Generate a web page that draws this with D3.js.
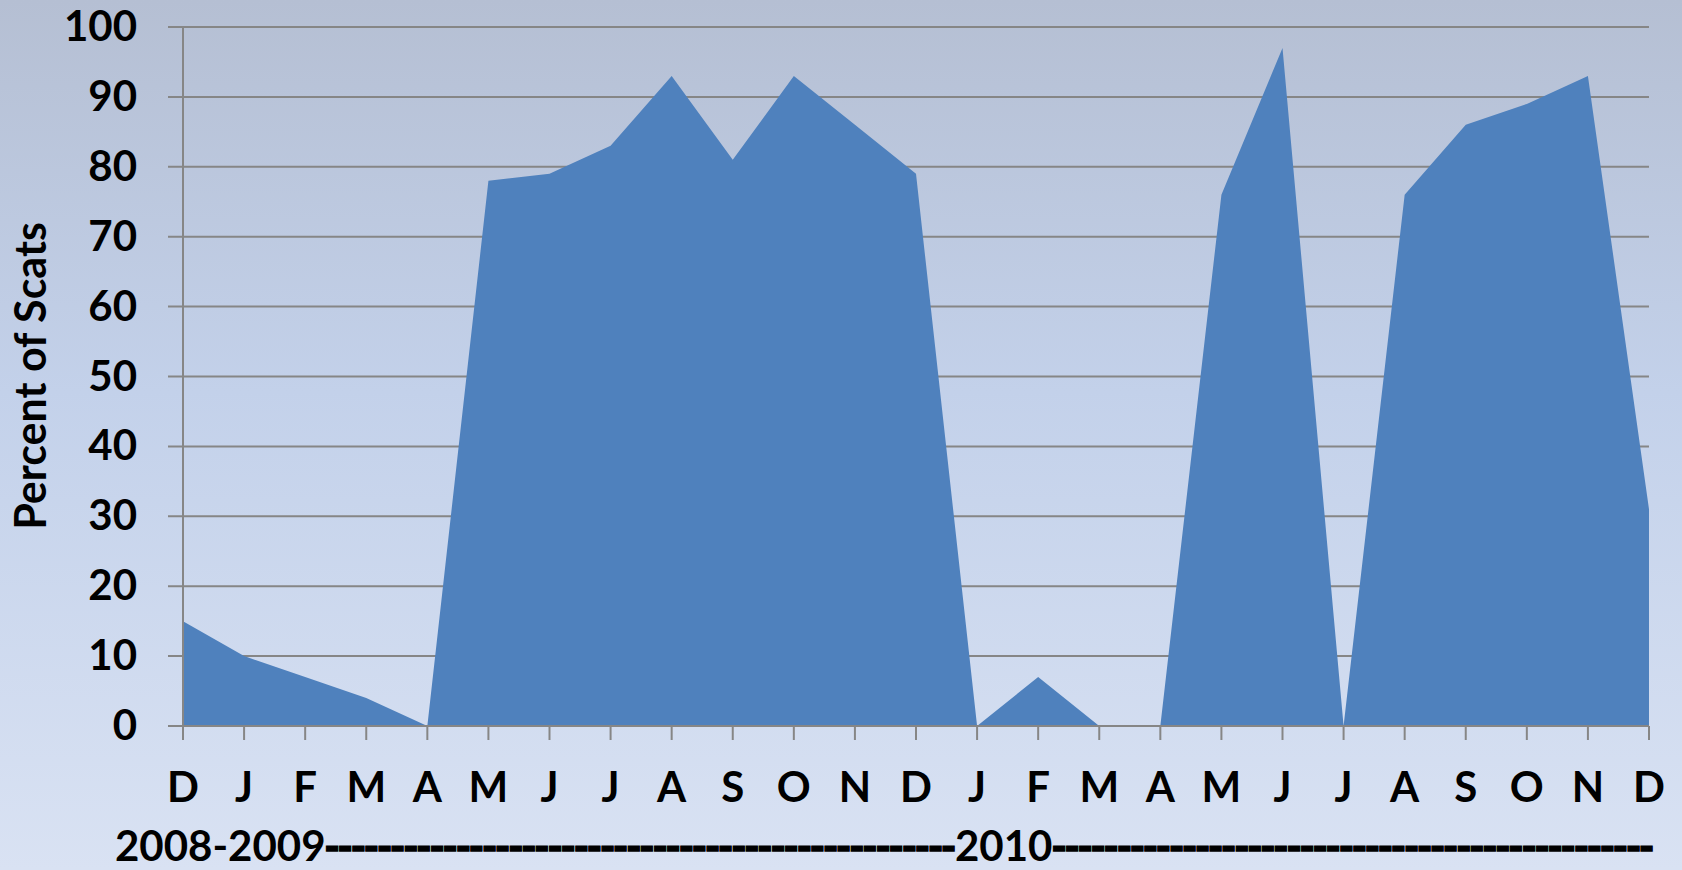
<!DOCTYPE html>
<html>
<head>
<meta charset="utf-8">
<script src="https://cdn.jsdelivr.net/npm/d3@7"></script>
<style>
  html, body { margin: 0; padding: 0; }
  body { width: 1682px; height: 870px; overflow: hidden; }
  text { font-family: Lato, "Open Sans", sans-serif; font-weight: 700; fill: #000; }
</style>
</head>
<body>
<svg id="chart" width="1682" height="870"></svg>
<script>
// Monthly share of scats, Dec 2008 through Dec 2010
const months = ["D","J","F","M","A","M","J","J","A","S","O","N","D",
                "J","F","M","A","M","J","J","A","S","O","N","D"];
const percent = [15, 10, 7, 4, 0, 78, 79, 83, 93, 81, 93, 86, 79,
                 0, 7, 0, 0, 76, 97, 0, 76, 86, 89, 93, 31];
const yTicks = [0, 10, 20, 30, 40, 50, 60, 70, 80, 90, 100];
const yearLabels = ["2008-2009", "2010"];

const W = 1682, H = 870;
const margin = { left: 183, right: 33, top: 27, bottom: 144 };
const svg = d3.select("#chart");

// Background wash
const defs = svg.append("defs");
const grad = defs.append("linearGradient").attr("id", "bg")
  .attr("x1", 0).attr("y1", 0).attr("x2", 0).attr("y2", 1);
grad.append("stop").attr("offset", "0%").attr("stop-color", "#b5bfd3");
grad.append("stop").attr("offset", "45%").attr("stop-color", "#c3d1ea");
grad.append("stop").attr("offset", "100%").attr("stop-color", "#d9e2f3");
svg.append("rect").attr("width", W).attr("height", H).attr("fill", "url(#bg)");

const x = d3.scalePoint()
  .domain(d3.range(months.length))
  .range([margin.left, W - margin.right]);
const y = d3.scaleLinear().domain([0, 100]).range([H - margin.bottom, margin.top]);

const gridColor = "#868686";

// Horizontal gridlines (with short left tick stubs)
svg.append("g").selectAll("line").data(yTicks.filter(d => d > 0)).join("line")
  .attr("x1", margin.left - 15).attr("x2", W - margin.right)
  .attr("y1", d => y(d)).attr("y2", d => y(d))
  .attr("stroke", gridColor).attr("stroke-width", 2);

// Area
const area = d3.area()
  .x((d, i) => x(i))
  .y0(y(0))
  .y1(d => y(d));
svg.append("path").datum(percent)
  .attr("d", area)
  .attr("fill", "#4f81bd");

// Y axis line
svg.append("line")
  .attr("x1", margin.left).attr("x2", margin.left)
  .attr("y1", y(100)).attr("y2", y(0) + 14)
  .attr("stroke", gridColor).attr("stroke-width", 2);

// X axis line and ticks
svg.append("line")
  .attr("x1", margin.left - 15).attr("x2", W - margin.right)
  .attr("y1", y(0)).attr("y2", y(0))
  .attr("stroke", gridColor).attr("stroke-width", 2);
svg.append("g").selectAll("line").data(d3.range(months.length)).join("line")
  .attr("x1", i => x(i)).attr("x2", i => x(i))
  .attr("y1", y(0)).attr("y2", y(0) + 14)
  .attr("stroke", gridColor).attr("stroke-width", 2);

// Y tick labels
svg.append("g").selectAll("text").data(yTicks).join("text")
  .attr("x", 137).attr("y", d => y(d) + 14)
  .attr("text-anchor", "end")
  .attr("font-size", 42)
  .text(d => d);

// Month labels
svg.append("g").selectAll("text").data(months).join("text")
  .attr("x", (d, i) => x(i)).attr("y", 802)
  .attr("text-anchor", "middle")
  .attr("font-size", 42)
  .text(d => d);

// Year line beneath the months: year names joined by runs of dashes
const yearY = 861;
const yr = svg.append("g").attr("font-size", 42);
const y0 = yr.append("text").attr("x", 115).attr("y", yearY).text(yearLabels[0]);
const y1 = yr.append("text").attr("x", 955).attr("y", yearY).text(yearLabels[1]);
const end0 = 115 + y0.node().getComputedTextLength();
const end1 = 955 + y1.node().getComputedTextLength();

function dashRun(x0, x1, count) {
  const t = yr.append("text").attr("x", x0).attr("y", yearY)
    .style("font-weight", 900)
    .attr("stroke", "#000").attr("stroke-width", 1.3)
    .text("-");
  const w = t.node().getComputedTextLength();
  const gap = (x1 - x0 - count * w) / count;
  t.attr("letter-spacing", gap.toFixed(2)).attr("dx", gap / 2).text("-".repeat(count));
}
dashRun(end0, 955, 48);
dashRun(end1, 1653, 46);

// Y axis title
svg.append("text")
  .attr("transform", "translate(46, 376) rotate(-90)")
  .attr("text-anchor", "middle")
  .attr("font-size", 43)
  .text("Percent of Scats");
</script>
</body>
</html>
